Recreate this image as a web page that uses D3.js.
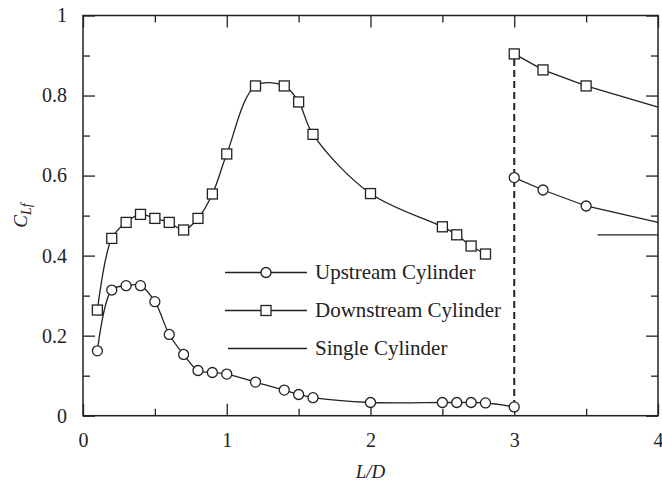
<!DOCTYPE html>
<html>
<head>
<meta charset="utf-8">
<script src="https://cdn.jsdelivr.net/npm/d3@7"></script>
<style>
  html, body { margin: 0; padding: 0; background: #fff; }
  svg { display: block; font-family: "Liberation Serif", "DejaVu Serif", serif; }
  .axis path { display: none; }
  .axis line { stroke: #222; stroke-width: 1.3; }
  .axis text { fill: #222; font-size: 20px; font-family: "Liberation Serif", serif; }
</style>
</head>
<body>
<div id="container"></div>
<script>
// L/D vs lift coefficient
var upstreamLeft = [
  [0.1, 0.162], [0.2, 0.314], [0.3, 0.325], [0.4, 0.325], [0.5, 0.285],
  [0.6, 0.203], [0.7, 0.153], [0.8, 0.113], [0.9, 0.108], [1.0, 0.104],
  [1.2, 0.084], [1.4, 0.064], [1.5, 0.053], [1.6, 0.045], [2.0, 0.033],
  [2.5, 0.033], [2.6, 0.033], [2.7, 0.033], [2.8, 0.032], [3.0, 0.022]
];
var downstreamLeft = [
  [0.1, 0.264], [0.2, 0.443], [0.3, 0.483], [0.4, 0.503], [0.5, 0.493],
  [0.6, 0.483], [0.7, 0.464], [0.8, 0.493], [0.9, 0.554], [1.0, 0.654],
  [1.2, 0.824], [1.4, 0.824], [1.5, 0.784], [1.6, 0.703], [2.0, 0.555],
  [2.5, 0.472], [2.6, 0.452], [2.7, 0.424], [2.8, 0.404]
];
var upstreamRight = [[3.0, 0.595], [3.2, 0.564], [3.5, 0.524], [4.0, 0.483]];
var downstreamRight = [[3.0, 0.904], [3.2, 0.864], [3.5, 0.824], [4.0, 0.771]];
var singleCylinder = [[3.58, 0.452], [4.0, 0.452]];
var jumpLine = [[3.0, 0.022], [3.0, 0.904]];

var xMajor = [0, 1, 2, 3, 4];
var xMinor = [0.5, 1.5, 2.5, 3.5];
var yMajor = [0, 0.2, 0.4, 0.6, 0.8, 1];
var yMinor = [0.1, 0.3, 0.5, 0.7, 0.9];

var legendLabels = ["Upstream Cylinder", "Downstream Cylinder", "Single Cylinder"];

var W = 662, H = 482;
var margin = { top: 15.5, right: 4, bottom: 66.3, left: 83 };
var w = W - margin.left - margin.right;
var h = H - margin.top - margin.bottom;

var svg = d3.select("#container").append("svg")
  .attr("width", W)
  .attr("height", H);

var g = svg.append("g")
  .attr("transform", "translate(" + margin.left + "," + margin.top + ")");

var x = d3.scaleLinear().domain([0, 4]).range([0, w]);
var y = d3.scaleLinear().domain([0, 1]).range([h, 0]);

function fmt(d) { return String(+d.toFixed(1)); }

// ticks point inward on all four sides
g.append("g").attr("class", "axis")
  .attr("transform", "translate(0," + h + ")")
  .call(d3.axisBottom(x).tickValues(xMajor).tickSizeInner(-12).tickSizeOuter(0).tickPadding(17).tickFormat(fmt));
g.append("g").attr("class", "axis")
  .attr("transform", "translate(0," + h + ")")
  .call(d3.axisBottom(x).tickValues(xMinor).tickSizeInner(-7).tickSizeOuter(0).tickFormat(""));
g.append("g").attr("class", "axis")
  .call(d3.axisTop(x).tickValues(xMajor).tickSizeInner(-12).tickSizeOuter(0).tickFormat(""));
g.append("g").attr("class", "axis")
  .call(d3.axisTop(x).tickValues(xMinor).tickSizeInner(-7).tickSizeOuter(0).tickFormat(""));

g.append("g").attr("class", "axis")
  .call(d3.axisLeft(y).tickValues(yMajor).tickSizeInner(-12).tickSizeOuter(0).tickPadding(16).tickFormat(fmt));
g.append("g").attr("class", "axis")
  .call(d3.axisLeft(y).tickValues(yMinor).tickSizeInner(-7).tickSizeOuter(0).tickFormat(""));
g.append("g").attr("class", "axis")
  .attr("transform", "translate(" + w + ",0)")
  .call(d3.axisRight(y).tickValues(yMajor).tickSizeInner(-12).tickSizeOuter(0).tickFormat(""));
g.append("g").attr("class", "axis")
  .attr("transform", "translate(" + w + ",0)")
  .call(d3.axisRight(y).tickValues(yMinor).tickSizeInner(-7).tickSizeOuter(0).tickFormat(""));

g.append("rect")
  .attr("width", w)
  .attr("height", h)
  .attr("fill", "none")
  .attr("stroke", "#222")
  .attr("stroke-width", 1.5);

var smooth = d3.line()
  .x(function (d) { return x(d[0]); })
  .y(function (d) { return y(d[1]); })
  .curve(d3.curveCatmullRom.alpha(0.5));
var straight = d3.line()
  .x(function (d) { return x(d[0]); })
  .y(function (d) { return y(d[1]); });

function drawLine(data, gen) {
  g.append("path")
    .attr("d", gen(data))
    .attr("fill", "none")
    .attr("stroke", "#222")
    .attr("stroke-width", 1.3);
}

drawLine(upstreamLeft, smooth);
drawLine(downstreamLeft, smooth);
drawLine(upstreamRight, straight);
drawLine(downstreamRight, straight);
drawLine(singleCylinder, straight);

g.append("path")
  .attr("d", straight(jumpLine))
  .attr("fill", "none")
  .attr("stroke", "#222")
  .attr("stroke-width", 2)
  .attr("stroke-dasharray", "7,4");

var r = 5, s = 10;

function drawCircles(data) {
  g.append("g").selectAll("circle")
    .data(data.filter(function (d) { return d[0] < 4; }))
    .join("circle")
    .attr("cx", function (d) { return x(d[0]); })
    .attr("cy", function (d) { return y(d[1]); })
    .attr("r", r)
    .attr("fill", "#fff")
    .attr("stroke", "#222")
    .attr("stroke-width", 1.3);
}

function drawSquares(data) {
  g.append("g").selectAll("rect")
    .data(data.filter(function (d) { return d[0] < 4; }))
    .join("rect")
    .attr("x", function (d) { return x(d[0]) - s / 2; })
    .attr("y", function (d) { return y(d[1]) - s / 2; })
    .attr("width", s)
    .attr("height", s)
    .attr("fill", "#fff")
    .attr("stroke", "#222")
    .attr("stroke-width", 1.3);
}

drawCircles(upstreamLeft);
drawCircles(upstreamRight);
drawSquares(downstreamLeft);
drawSquares(downstreamRight);

// legend
var legend = svg.append("g").attr("transform", "translate(225,272.5)");
var rowGap = 38;
legendLabels.forEach(function (label, i) {
  var row = legend.append("g").attr("transform", "translate(0," + (i * rowGap) + ")");
  row.append("line")
    .attr("x1", i === 2 ? 3 : 0).attr("x2", 82)
    .attr("stroke", "#222").attr("stroke-width", 1.3);
  if (i === 0) {
    row.append("circle").attr("cx", 41).attr("r", r)
      .attr("fill", "#fff").attr("stroke", "#222").attr("stroke-width", 1.3);
  } else if (i === 1) {
    row.append("rect").attr("x", 41 - s / 2).attr("y", -s / 2)
      .attr("width", s).attr("height", s)
      .attr("fill", "#fff").attr("stroke", "#222").attr("stroke-width", 1.3);
  }
  row.append("text")
    .attr("x", 90)
    .attr("dy", "0.33em")
    .attr("fill", "#222")
    .style("font-size", "21px")
    .text(label);
});

// axis titles
svg.append("text")
  .attr("x", margin.left + w / 2)
  .attr("y", 478)
  .attr("text-anchor", "middle")
  .attr("fill", "#222")
  .style("font-size", "19px")
  .style("font-style", "italic")
  .text("L/D");

var yTitle = svg.append("text")
  .attr("transform", "translate(27," + (margin.top + h / 2) + ") rotate(-90)")
  .attr("text-anchor", "middle")
  .attr("fill", "#222")
  .style("font-size", "19px")
  .style("font-style", "italic");
yTitle.append("tspan").text("C");
yTitle.append("tspan").attr("dy", "0.3em").style("font-size", "14px").text("Lf");
</script>
</body>
</html>
